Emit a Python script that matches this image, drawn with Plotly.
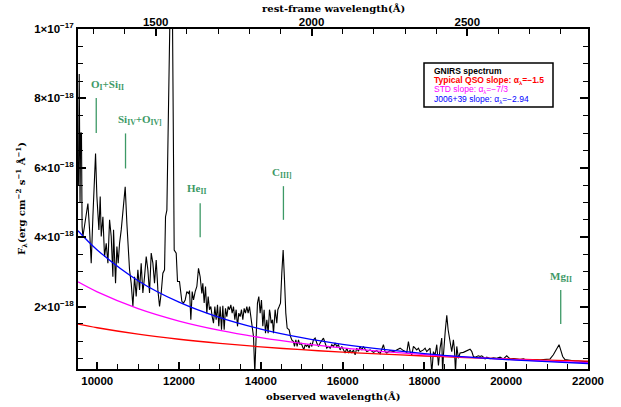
import plotly.graph_objects as go

# ---------------- data ----------------
one_plus_z = 7.62
x_limits = [9530, 22000]          # observed wavelength (Angstrom)
y_limits = [0.2, 10.0]            # flux in units of 1e-18 erg cm^-2 s^-1 A^-1

spec_wave = [9540, 9560, 9580, 9595, 9615, 9630, 9650, 9715, 9772, 9813, 9853, 9894, 9959, 9992,
             10041, 10073, 10098, 10139, 10179, 10220, 10261, 10302, 10342, 10383, 10399, 10448,
             10481, 10513, 10546, 10587, 10627, 10684, 10725, 10758, 10790, 10831, 10872, 10913,
             10953, 10994, 11035, 11075, 11116, 11157, 11198, 11238, 11279, 11320, 11361, 11401,
             11442, 11483, 11524, 11564, 11605, 11646, 11670, 11703, 11735, 11780, 11805, 11835,
             11860, 11882, 11931, 11963, 12012, 12069, 12110, 12151, 12191, 12232, 12257, 12289,
             12322, 12354, 12395, 12436, 12476, 12517, 12558, 12582, 12615, 12648, 12680, 12713,
             12745, 12778, 12811, 12843, 12876, 12908, 12941, 12973, 13006, 13039, 13071, 13104,
             13136, 13169, 13202, 13234, 13267, 13299, 13332, 13365, 13397, 13430, 13462, 13495,
             13527, 13560, 13593, 13625, 13658, 13690, 13723, 13756, 13788, 13821, 13853, 13886,
             13918, 13951, 13984, 14016, 14049, 14081, 14114, 14147, 14179, 14212, 14228, 14253,
             14285, 14310, 14350, 14391, 14416, 14448, 14481, 14513, 14546, 14579, 14611, 14644,
             14693, 14725, 14758, 14798, 14823, 14856, 14888, 14921, 14953, 14986, 15018, 15051,
             15084, 15116, 15149, 15181, 15214, 15247, 15287, 15328, 15369, 15410, 15450, 15491,
             15532, 15572, 15613, 15654, 15695, 15735, 15776, 15817, 15858, 15898, 15939, 15980,
             16021, 16061, 16102, 16143, 16183, 16224, 16265, 16306, 16346, 16387, 16428, 16469,
             16509, 16550, 16591, 16672, 16754, 16835, 16917, 16998, 17039, 17080, 17161, 17243,
             17324, 17406, 17487, 17569, 17609, 17650, 17691, 17732, 17813, 17854, 17895, 17976,
             18017, 18057, 18139, 18180, 18220, 18261, 18302, 18343, 18383, 18424, 18445, 18465,
             18510, 18547, 18580, 18628, 18668, 18709, 18735, 18760, 18791, 18831, 18872, 18953,
             19019, 19076, 19116, 19157, 19198, 19239, 19320, 19361, 19402, 19442, 19483, 19524,
             19605, 19687, 19768, 19850, 19931, 20013, 20053, 20094, 20176, 20257, 20339, 20420,
             20501, 20583, 20664, 20746, 20827, 20909, 20990, 21072, 21153, 21235, 21292, 21332,
             21381, 21438, 21520, 21601, 21683, 21764, 21846, 21927, 22009]
spec_flux = [5.5, 8.7, 5.0, 7.0, 7.0, 4.3, 4.02, 4.59, 4.97, 4.21, 3.25, 4.59, 6.41, 5.17,
             4.21, 5.17, 4.02, 4.59, 3.44, 3.82, 3.25, 4.50, 4.02, 2.86, 4.21, 2.67,
             3.73, 3.25, 3.82, 4.21, 4.69, 5.45, 4.40, 3.63, 3.06, 2.67, 2.00, 2.86,
             2.29, 3.06, 2.48, 3.25, 2.39, 2.86, 3.44, 3.06, 2.39, 3.54, 3.25, 2.67,
             3.34, 2.48, 2.00, 2.39, 2.96, 3.06, 4.59, 4.78, 7.08, 10.5, 16.0, 10.8,
             4.50, 3.63, 3.54, 2.72, 2.72, 2.15, 2.10, 2.19, 2.43, 2.38, 2.46, 1.62,
             2.43, 2.19, 2.43, 2.58, 3.10, 2.86, 2.38, 2.67, 2.10, 2.58, 1.81, 2.29,
             1.91, 2.00, 1.71, 1.52, 2.00, 1.62, 2.05, 1.43, 2.00, 1.33, 2.02, 1.33,
             1.95, 1.71, 2.00, 1.91, 2.05, 1.81, 2.00, 1.62, 1.91, 1.43, 1.81, 1.71,
             1.91, 1.62, 1.95, 1.81, 2.00, 1.81, 2.00, 1.62, 1.43, 1.14, 0.08, 1.14,
             2.10, 2.29, 1.81, 2.19, 1.43, 1.91, 1.23, 1.62, 1.23, 1.91, 1.81, 1.52,
             1.62, 1.23, 1.91, 1.52, 1.91, 2.00, 2.10, 2.96, 3.63, 2.77, 1.81, 1.38,
             1.33, 1.14, 1.04, 0.99, 0.85, 1.04, 0.85, 1.04, 0.90, 0.95, 0.85, 0.75,
             0.90, 0.85, 0.90, 0.80, 0.95, 0.85, 1.04, 1.09, 0.95, 0.85, 0.95, 1.04,
             1.09, 0.95, 0.80, 0.85, 0.80, 0.90, 0.85, 0.95, 0.85, 0.90, 0.75, 0.85,
             0.75, 0.66, 0.80, 0.66, 0.75, 0.66, 0.75, 0.61, 0.80, 0.71, 0.85, 0.75,
             0.85, 0.75, 0.70, 0.75, 0.68, 0.73, 0.64, 0.90, 0.70, 0.66, 0.73, 0.70,
             0.75, 0.80, 0.73, 0.68, 0.99, 0.70, 0.61, 0.85, 0.75, 0.80, 0.70, 0.75,
             0.80, 0.70, 0.80, 0.08, 0.70, 0.60, 0.90, 0.30, 0.80, 1.09, 0.05, 0.60,
             1.30, 1.75, 1.33, 0.99, 0.70, 1.04, 0.75, 0.10, 0.85, 0.51, 0.66, 0.68,
             0.71, 0.75, 0.77, 0.71, 0.56, 0.54, 0.58, 0.56, 0.58, 0.54, 0.49, 0.54,
             0.50, 0.52, 0.51, 0.54, 0.49, 0.58, 0.54, 0.49, 0.50, 0.49, 0.47, 0.49,
             0.45, 0.47, 0.46, 0.47, 0.46, 0.47, 0.47, 0.49, 0.61, 0.80, 0.90, 0.75,
             0.56, 0.47, 0.45, 0.44, 0.43, 0.43, 0.42, 0.41, 0.41]

# power-law continua (flux in 1e-18 units)
model_wave = [9530, 10000, 11000, 12000, 13000, 14000, 15000, 16000, 17000, 18000, 19000, 20000, 21000, 22000]
qso_flux = [1.493, 1.389, 1.204, 1.057, 0.937, 0.838, 0.756, 0.686, 0.627, 0.575, 0.530, 0.491, 0.456, 0.426]
std_flux = [2.711, 2.423, 1.940, 1.583, 1.314, 1.105, 0.941, 0.809, 0.702, 0.615, 0.542, 0.481, 0.429, 0.385]
j006_flux = [4.186, 3.633, 2.745, 2.126, 1.680, 1.351, 1.103, 0.912, 0.763, 0.645, 0.550, 0.473, 0.410, 0.358]

# emission-line markers
line_labels = ["O<sub>I</sub>+Si<sub>II</sub>", "Si<sub>IV</sub>+O<sub>IV]</sub>", "He<sub>II</sub>",
               "C<sub>III]</sub>", "Mg<sub>II</sub>"]
line_wave = [9976, 10692, 12517, 14553, 21333]
line_bottom = [7.0, 5.98, 4.0, 4.5, 1.5]
line_top = [8.01, 6.99, 4.98, 5.47, 2.48]
label_x = [10240, 11050, 12435, 14530, 21345]
label_y = [8.38, 7.37, 5.38, 5.86, 2.86]

y_tickvals = [2, 4, 6, 8, 10]
y_ticktext = ["2×10<sup>−18</sup>", "4×10<sup>−18</sup>", "6×10<sup>−18</sup>",
              "8×10<sup>−18</sup>", "1×10<sup>−17</sup>"]
x_tickvals = [10000, 12000, 14000, 16000, 18000, 20000, 22000]
x_ticktext = ["10000", "12000", "14000", "16000", "18000", "20000", "22000"]
rest_tickvals = [1500, 2000, 2500]
rest_ticktext = ["1500", "2000", "2500"]

x_title = "observed wavelength(Å)"
top_title = "rest-frame wavelength(Å)"
y_title = "F<sub>λ</sub>(erg cm<sup>−2</sup> s<sup>−1</sup> Å<sup>−1</sup>)"

legend_lines = ["<b>GNIRS spectrum</b>",
                "<b>Typical QSO slope: α<sub>λ</sub>=−1.5</b>",
                "STD slope: α<sub>λ</sub>=−7/3",
                "J006+39 slope: α<sub>λ</sub>=−2.94"]
legend_colors = ["black", "red", "magenta", "blue"]

# ---------------- figure ----------------
GREEN = "#3d9966"
OFF = 0          # page body margin removed via post_script
L, T = 78, 29
PW, PH = 510, 340
fig = go.Figure()

fig.add_trace(go.Scatter(x=spec_wave, y=spec_flux, mode="lines",
                         line=dict(color="black", width=1.1), showlegend=False, hoverinfo="skip"))
for fl, col in [(qso_flux, "red"), (std_flux, "magenta"), (j006_flux, "blue")]:
    fig.add_trace(go.Scatter(x=model_wave, y=fl, mode="lines", line=dict(color=col, width=1.3, shape="spline"),
                             showlegend=False, hoverinfo="skip"))

for w, b, t in zip(line_wave, line_bottom, line_top):
    fig.add_trace(go.Scatter(x=[w, w], y=[b, t], mode="lines", line=dict(color=GREEN, width=1.3),
                             showlegend=False, hoverinfo="skip"))
for txt, lx, ly in zip(line_labels, label_x, label_y):
    fig.add_annotation(x=lx, y=ly, xref="x", yref="y", text=txt, showarrow=False,
                       font=dict(family="Liberation Serif", size=11, color=GREEN, weight="bold"))

# invisible trace to carry the top (rest-frame) axis
fig.add_trace(go.Scatter(x=[x_limits[0] / one_plus_z, x_limits[1] / one_plus_z], y=[y_limits[0], y_limits[0]],
                         xaxis="x2", mode="lines", line=dict(color="rgba(0,0,0,0)"),
                         showlegend=False, hoverinfo="skip"))

tickfont = dict(family="Liberation Sans", size=11.5, color="black", weight="bold")
titlefont = dict(family="DejaVu Serif", size=10, color="black", weight="bold")

fig.update_layout(
    width=621, height=407,
    margin=dict(l=L, r=621 - L - PW, t=T, b=407 - T - PH, autoexpand=False),
    paper_bgcolor="white", plot_bgcolor="white",
    xaxis=dict(range=x_limits, tickvals=x_tickvals, ticktext=x_ticktext, ticks="inside", ticklen=7,
               tickwidth=1.5, automargin=False,
               tickcolor="black", showline=True, linecolor="black", linewidth=2, mirror=False,
               showgrid=False, zeroline=False, tickfont=tickfont,
               minor=dict(dtick=500, ticks="inside", ticklen=5, tickwidth=1.2, tickcolor="black")),
    xaxis2=dict(range=[x_limits[0] / one_plus_z, x_limits[1] / one_plus_z], overlaying="x", side="top",
                tickvals=rest_tickvals, ticktext=rest_ticktext, ticks="inside", ticklen=7, tickwidth=1.5,
                tickcolor="black", automargin=False, ticklabelstandoff=-4,
                showline=True, linecolor="black", linewidth=2, showgrid=False, zeroline=False,
                tickfont=tickfont,
                minor=dict(dtick=100, ticks="inside", ticklen=5, tickwidth=1.2, tickcolor="black")),
    yaxis=dict(range=y_limits, tickvals=y_tickvals, ticktext=y_ticktext, ticks="inside", ticklen=8,
               tickwidth=1.5, tickcolor="black", showline=True, linecolor="black", linewidth=2,
               mirror="ticks", showgrid=False, zeroline=False, tickfont=tickfont, automargin=False,
               minor=dict(dtick=0.5, tick0=0, ticks="inside", ticklen=5, tickwidth=1.2, tickcolor="black")),
)

# axis titles as annotations (page pixel positions converted to paper coords)
def px_to_paper(xp, yp):
    return (xp - OFF - L) / PW, 1 - (yp - OFF - T) / PH

tx, ty = px_to_paper(333, 396)
fig.add_annotation(x=tx, y=ty, xref="paper", yref="paper", text=x_title, showarrow=False,
                   xanchor="center", yanchor="middle", font=titlefont)
tx, ty = px_to_paper(333, 9)
fig.add_annotation(x=tx, y=ty, xref="paper", yref="paper", text=top_title, showarrow=False,
                   xanchor="center", yanchor="middle", font=titlefont)
tx, ty = px_to_paper(21, 199)
fig.add_annotation(x=tx, y=ty, xref="paper", yref="paper", text=y_title, showarrow=False,
                   textangle=-90, xanchor="center", yanchor="middle", font=titlefont)

# legend box
x0, y1 = px_to_paper(424, 63)
x1, y0 = px_to_paper(553, 107)
fig.add_shape(type="rect", xref="paper", yref="paper", x0=x0, x1=x1, y0=y0, y1=y1,
              line=dict(color="black", width=1.5), fillcolor="white")
for i, (txt, col) in enumerate(zip(legend_lines, legend_colors)):
    lx, ly = px_to_paper(432, 71 + i * 9.4)
    fig.add_annotation(x=lx, y=ly, xref="paper", yref="paper",
                       xanchor="left", yanchor="middle", text=txt, showarrow=False,
                       font=dict(family="Liberation Sans", size=8.5, color=col))

fig.write_html("out.html", config={"displayModeBar": False},
               post_script="document.body.style.margin='0';")
